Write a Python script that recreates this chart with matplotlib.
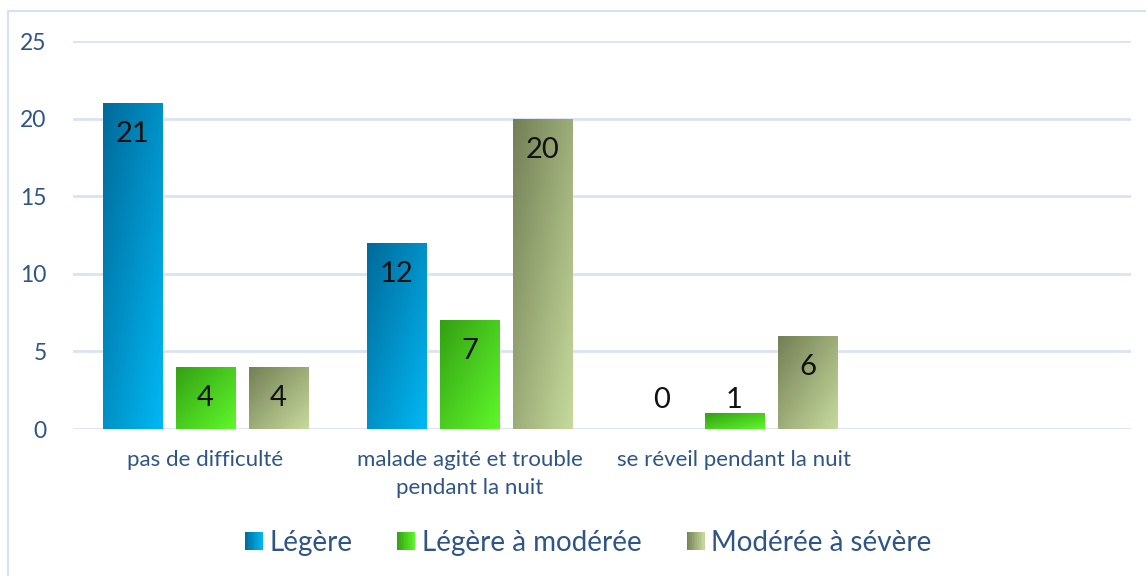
import matplotlib
matplotlib.use("Agg")
import matplotlib.pyplot as plt
import numpy as np
from matplotlib.patches import Rectangle
from matplotlib.legend_handler import HandlerBase
from matplotlib.colors import LinearSegmentedColormap

plt.rcParams['font.family'] = ['Lato', 'DejaVu Sans']

categories = ["pas de difficulté", "malade agité et trouble\npendant la nuit", "se réveil pendant la nuit", ""]
series_names = ["Légère", "Légère à modérée", "Modérée à sévère"]
legere = [21, 12, 0]
legere_moderee = [4, 7, 1]
moderee_severe = [4, 20, 6]
series_values = [legere, legere_moderee, moderee_severe]
yticks = [0, 5, 10, 15, 20, 25]

grad_colors = [("#006A9A", "#00B8F4"),
               ("#34A014", "#5EF82A"),
               ("#737F55", "#C6DA9C")]

W, H = 1146, 576
fig = plt.figure(figsize=(W / 100, H / 100), dpi=100)
ax = fig.add_axes([73 / W, 1 - 429 / H, (1131 - 73) / W, (429 - 41) / H])

# outer chart border
fig.patches.append(Rectangle((8 / W, -0.02), 1.05, 1 - 11 / H + 0.02, transform=fig.transFigure,
                             fill=False, edgecolor="#D6E2F2", linewidth=1.5, zorder=0))

ax.set_xlim(-0.5, len(categories) - 0.5)
ax.set_ylim(0, 25)
ax.set_yticks(yticks)
ax.yaxis.grid(True, color="#D9E3F1", linewidth=2)
ax.set_axisbelow(True)
for s in ax.spines.values():
    s.set_visible(False)
ax.tick_params(length=0)
ax.tick_params(axis='y', pad=19, labelsize=16.5, labelcolor="#2E5585")
ax.set_xticks(range(len(categories)))
ax.set_xticklabels(categories, fontsize=16, color="#2E5585", linespacing=1.5)
ax.tick_params(axis='x', pad=15)

width = 0.2235
step = 0.2765
x = np.arange(len(legere))

def cmap_of(c):
    return LinearSegmentedColormap.from_list("g", list(c))

n = 64
uu, vv = np.meshgrid(np.linspace(0, 1, n), np.linspace(0, 1, n))

for i, (vals, cols) in enumerate(zip(series_values, grad_colors)):
    bars = ax.bar(x + (i - 1) * step, vals, width, facecolor="none", edgecolor="none", zorder=2)
    cm = cmap_of(cols)
    for b, v in zip(bars, vals):
        if v > 0:
            x0, y0 = b.get_x(), b.get_y()
            # t: 0 at top-left, 1 at bottom-right
            g = (uu + (1 - vv)) / 2
            im = ax.imshow(g, cmap=cm, extent=[x0, x0 + b.get_width(), y0, y0 + b.get_height()],
                           origin="lower", aspect="auto", zorder=2, interpolation="bilinear", vmin=0, vmax=1)
            im.set_clip_path(b)
        ly = max(v - 2.0, 1.87)
        ax.text(b.get_x() + b.get_width() / 2, ly, str(v), ha="center", va="center",
                fontsize=21, color="#111111", zorder=3)

ax.set_xlim(-0.5, len(categories) - 0.5)
ax.set_ylim(0, 25)


class GradHandler(HandlerBase):
    def __init__(self, cols):
        super().__init__()
        self.cols = cols

    def create_artists(self, legend, orig_handle, xdescent, ydescent, width, height, fontsize, trans):
        cm = cmap_of(self.cols)
        side = height * 0.95
        x0 = -xdescent + (width - side)
        y0 = -ydescent + (height - side) / 2
        k = 10
        arts = []
        for j in range(k):
            r = Rectangle((x0 + side * j / k, y0), side / k + 0.3, side,
                          facecolor=cm((j + 0.5) / k), edgecolor="none", transform=trans)
            arts.append(r)
        return arts


handles = [Rectangle((0, 0), 1, 1) for _ in series_names]
leg = fig.legend(handles, series_names, loc="center", bbox_to_anchor=(588 / W, 1 - 543 / H),
                 ncol=3, frameon=False, fontsize=20, handlelength=0.65, handleheight=0.65,
                 handletextpad=0.25, columnspacing=1.6,
                 handler_map={h: GradHandler(c) for h, c in zip(handles, grad_colors)})
for t in leg.get_texts():
    t.set_color("#2E5585")

fig.savefig("out.png", dpi=100, facecolor="white")
